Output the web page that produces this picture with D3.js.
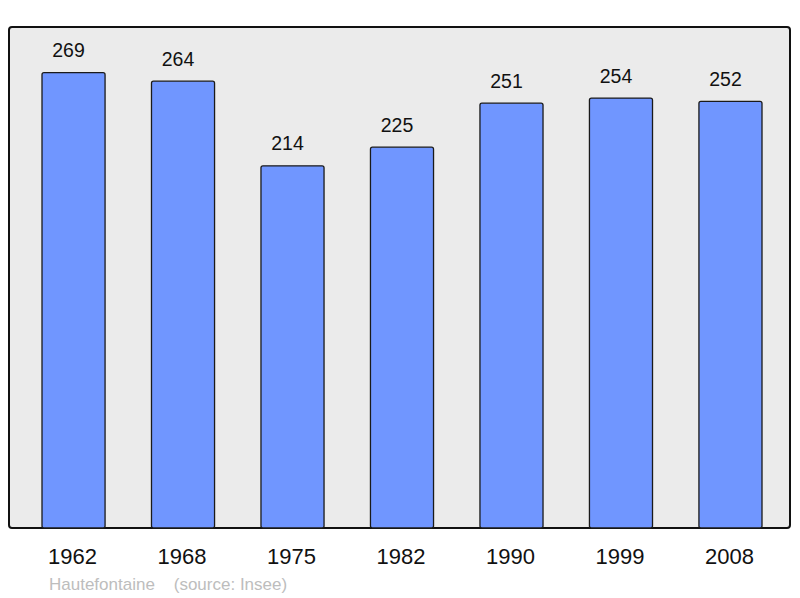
<!DOCTYPE html>
<html><head><meta charset="utf-8">
<script src="https://cdn.jsdelivr.net/npm/d3@7"></script>
<style>body{margin:0;background:#fff}svg{display:block}</style>
</head><body>
<svg id="c" width="800" height="598"></svg>
<script>
const years = ["1962","1968","1975","1982","1990","1999","2008"];
const population = [269,264,214,225,251,254,252];
const place = "Hautefontaine";
const source = "(source: Insee)";

(function(){
const svg = d3.select("#c");
const font = "'Liberation Sans', Arial, sans-serif";
const baseY = 528, topY = 27;
const x = d3.scaleBand().domain(years).range([42, 762]).paddingInner(0.424).paddingOuter(0);
const y = d3.scaleLinear().domain([0, 296]).range([baseY, topY]);

svg.append("rect").attr("x", 9).attr("y", topY).attr("width", 781).attr("height", baseY - topY)
  .attr("rx", 3).attr("fill", "#ebebeb").attr("stroke", "#111").attr("stroke-width", 2);

const g = svg.append("g");
g.selectAll("rect.bar").data(years).join("rect").attr("class","bar")
  .attr("x", d => x(d)).attr("width", x.bandwidth())
  .attr("y", (d,i) => y(population[i])).attr("height", (d,i) => baseY - y(population[i]))
  .attr("rx", 2).attr("fill", "#7096ff").attr("stroke", "#1a1a1a").attr("stroke-width", 1.3);

g.selectAll("text.val").data(years).join("text").attr("class","val")
  .attr("x", d => x(d) + x.bandwidth()/2 - 5)
  .attr("y", (d,i) => y(population[i]) - 15.5)
  .attr("text-anchor","middle").attr("font-family", font).attr("font-size", 19.5).attr("fill","#111")
  .text((d,i) => population[i]);

const xAxis = d3.axisBottom(x).tickSize(0).tickPadding(0);
const ax = svg.append("g").attr("transform", `translate(0,${baseY})`).call(xAxis);
ax.select(".domain").remove();
ax.selectAll("text").attr("font-family", font).attr("font-size", 22).attr("fill", "#111")
  .attr("dy", null).attr("y", 36).attr("dx", -1);

svg.append("text").attr("x", 49).attr("y", 590).attr("font-family", font).attr("font-size", 17)
  .attr("fill", "#bdbdbd").attr("xml:space","preserve").style("white-space","pre")
  .text(place + "    " + source);
})();
</script>
</body></html>
